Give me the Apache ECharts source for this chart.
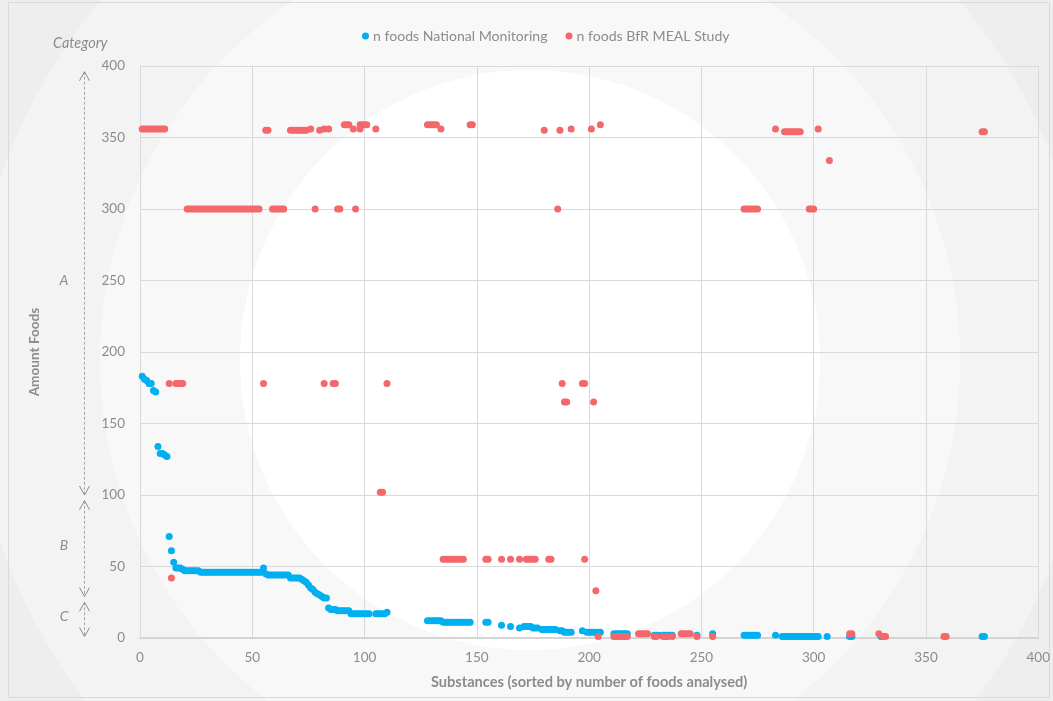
<!DOCTYPE html>
<html>
<head>
<meta charset="utf-8">
<script src="https://cdn.jsdelivr.net/npm/echarts@6/dist/echarts.min.js"></script>
<style>html,body{margin:0;padding:0;background:#f2f2f2}#c{width:1053px;height:701px}</style>
</head>
<body>
<div id="c"></div>
<script>
// ---- data (substance rank, number of foods) ----
const xTicks = [0, 50, 100, 150, 200, 250, 300, 350, 400];
const yTicks = [0, 50, 100, 150, 200, 250, 300, 350, 400];
const seriesNames = ['n foods National Monitoring', 'n foods BfR MEAL Study'];

const nationalMonitoring = [
  [1,183],[2,181],[3,180],[4,178],[5,178],[6,173],[7,172],
  [8,134],[9,129],[10,129],[11,128],[12,127],
  [13,71],[14,61],[15,53],[16,49],[17,49],[18,49],[19,48],
  [20,47],[21,47],[22,47],[23,47],[24,47],[25,47],[26,47],
  [27,46],[28,46],[29,46],[30,46],[31,46],[32,46],[33,46],[34,46],[35,46],[36,46],
  [37,46],[38,46],[39,46],[40,46],[41,46],[42,46],[43,46],[44,46],[45,46],[46,46],
  [47,46],[48,46],[49,46],[50,46],[51,46],[52,46],[53,46],[54,46],
  [55,49],
  [56,45],[57,44],[58,44],[59,44],[60,44],[61,44],[62,44],[63,44],[64,44],[65,44],[66,44],
  [67,42],[68,42],[69,42],[70,42],[71,42],
  [72,41],[73,40],[74,39],[75,37],[76,35],[77,34],[78,32],[79,31],[80,30],[81,29],[82,28],[83,28],
  [84,21],[85,20],[86,20],[87,20],[88,19],[89,19],[90,19],[91,19],[92,19],[93,19],
  [94,17],[95,17],[96,17],[97,17],[98,17],[99,17],[100,17],[101,17],[102,17],
  [105,17],[106,17],[107,17],[108,17],[109,17],[110,18],
  [128,12],[129,12],[130,12],[131,12],[132,12],[133,12],[134,12],
  [135,11],[136,11],[137,11],[138,11],[139,11],[140,11],[141,11],[142,11],[143,11],
  [144,11],[145,11],[146,11],[147,11],
  [154,11],[155,11],[161,9],[165,8],[169,7],
  [171,8],[172,8],[173,8],[174,8],[175,7],[176,7],[177,7],
  [179,6],[180,6],[181,6],[182,6],[183,6],[184,6],[185,6],
  [187,5],[188,5],[189,4],[190,4],[191,4],[192,4],
  [197,5],[199,4],[200,4],[201,4],[202,4],[203,4],[204,4],[205,4],
  [211,3],[212,3],[213,3],[214,3],[215,3],[216,3],[217,3],
  [229,2],[230,2],[231,2],[233,2],[234,2],[235,2],[236,2],[237,2],
  [248,2],[255,3],
  [269,2],[270,2],[271,2],[272,2],[273,2],[274,2],[275,2],
  [283,2],
  [286,1],[287,1],[288,1],[289,1],[290,1],[291,1],[292,1],[293,1],[294,1],[295,1],
  [296,1],[297,1],[298,1],[299,1],[300,1],[301,1],[302,1],
  [306,1],[316,1],[317,1],[330,1],[375,1],[376,1]
];

const mealStudy = [
  [1,356],[2,356],[3,356],[4,356],[5,356],[6,356],[7,356],[8,356],[9,356],[10,356],[11,356],
  [13,178],[14,42],[16,178],[17,178],[18,178],[19,178],
  [21,300],[22,300],[23,300],[24,300],[25,300],[26,300],[27,300],[28,300],[29,300],[30,300],
  [31,300],[32,300],[33,300],[34,300],[35,300],[36,300],[37,300],[38,300],[39,300],[40,300],
  [41,300],[42,300],[43,300],[44,300],[45,300],[46,300],[47,300],[48,300],[49,300],[50,300],
  [51,300],[52,300],[53,300],
  [55,178],[56,355],[57,355],
  [59,300],[60,300],[61,300],[62,300],[63,300],[64,300],
  [67,355],[68,355],[69,355],[70,355],[71,355],[72,355],[73,355],[74,355],
  [76,356],[78,300],[80,355],[82,178],[82,356],[84,356],
  [86,178],[87,178],[88,300],[89,300],
  [91,359],[92,359],[93,359],[95,356],[96,300],
  [98,356],[98,359],[99,359],[100,359],[101,359],
  [105,356],[107,102],[108,102],[110,178],
  [128,359],[129,359],[130,359],[131,359],[132,359],[134,356],
  [135,55],[136,55],[137,55],[138,55],[139,55],[140,55],[141,55],[142,55],[143,55],[144,55],
  [147,359],[148,359],
  [154,55],[155,55],[161,55],[165,55],[169,55],
  [172,55],[173,55],[174,55],[175,55],[176,55],
  [180,355],[182,55],[183,55],
  [186,300],[187,355],[188,178],[189,165],[190,165],[192,356],
  [197,178],[198,178],[198,55],[201,356],[202,165],[203,33],[204,1],[205,359],
  [211,1],[212,1],[213,1],[214,1],[215,1],[216,1],[217,1],
  [222,3],[223,3],[224,3],[225,3],[226,3],
  [229,1],[230,1],[233,1],[234,1],[235,1],[237,1],
  [241,3],[242,3],[243,3],[244,3],[245,3],
  [248,1],[255,1],
  [269,300],[270,300],[271,300],[272,300],[273,300],[274,300],[275,300],
  [283,356],
  [287,354],[288,354],[289,354],[290,354],[291,354],[292,354],[293,354],[294,354],
  [298,300],[299,300],[300,300],[302,356],[307,334],
  [316,3],[317,3],[329,3],[331,1],[332,1],
  [358,1],[359,1],[375,354],[376,354]
];

// category bands on the left (value ranges shown by dashed arrows)
const categoryLabels = ['A', 'B', 'C'];
const categoryArrows = [[396, 100], [96, 29], [25, 1]];
const categoryLabelAt = [250, 65, 15];

const FONT = 'Lato, "Open Sans", sans-serif';
const GREY = '#8c8c8c';

const chart = echarts.init(document.getElementById('c'), null, {renderer: 'canvas'});

const option = {
  backgroundColor: {
    type: 'radial', x: 530, y: 360, r: 620, global: true,
    colorStops: [
      {offset: 0, color: '#ffffff'},
      {offset: 290/620, color: '#ffffff'},
      {offset: 290/620, color: '#f8f8f8'},
      {offset: 430/620, color: '#f8f8f8'},
      {offset: 430/620, color: '#f3f3f3'},
      {offset: 560/620, color: '#f3f3f3'},
      {offset: 560/620, color: '#eeeeee'},
      {offset: 1, color: '#eeeeee'}
    ]
  },
  textStyle: {fontFamily: FONT},
  animation: false,
  legend: {
    top: 24, left: 357,
    itemGap: 18, itemWidth: 7, itemHeight: 7,
    icon: 'circle',
    data: seriesNames,
    textStyle: {color: GREY, fontSize: 14.1, fontFamily: FONT, padding: [0, 0, 0, -1]}
  },
  grid: {left: 140, right: 14, top: 66, bottom: 63, containLabel: false},
  xAxis: {
    type: 'value', min: xTicks[0], max: xTicks[xTicks.length - 1], interval: xTicks[1] - xTicks[0],
    name: 'Substances (sorted by number of foods analysed)',
    nameLocation: 'middle', nameGap: 37,
    nameTextStyle: {color: GREY, fontSize: 14.6, fontWeight: 'bold', fontFamily: FONT},
    axisLine: {show: true, lineStyle: {color: '#d4d4d4', width: 2}},
    axisTick: {show: false},
    axisLabel: {color: GREY, fontSize: 13.5, margin: 13, fontFamily: FONT},
    splitLine: {show: true, lineStyle: {color: '#d9d9d9', width: 1}}
  },
  yAxis: {
    type: 'value', min: yTicks[0], max: yTicks[yTicks.length - 1], interval: yTicks[1] - yTicks[0],
    name: 'Amount Foods',
    nameLocation: 'middle', nameGap: 98, nameRotate: 90,
    nameTextStyle: {color: GREY, fontSize: 13.6, fontWeight: 'bold', fontFamily: FONT},
    axisLine: {show: true, lineStyle: {color: '#d9d9d9', width: 1}},
    axisTick: {show: false},
    axisLabel: {color: GREY, fontSize: 13.5, margin: 15, fontFamily: FONT},
    splitLine: {show: true, lineStyle: {color: '#d9d9d9', width: 1}}
  },
  series: [
    {
      name: seriesNames[0], type: 'scatter', data: nationalMonitoring,
      symbol: 'circle', symbolSize: 7,
      itemStyle: {color: '#00b0f0', opacity: 1}, z: 3
    },
    {
      name: seriesNames[1], type: 'scatter', data: mealStudy,
      symbol: 'circle', symbolSize: 7,
      itemStyle: {color: '#f4676b', opacity: 1}, z: 4
    }
  ]
};

chart.setOption(option);

function yPix(v) { return chart.convertToPixel({gridIndex: 0}, [0, v])[1]; }

const AX = 84.5;
const elements = [
  {type: 'rect', silent: true, z: -1,
   shape: {x: 8.5, y: 2.5, width: 1041, height: 695},
   style: {fill: 'none', stroke: '#d9d9d9', lineWidth: 1}},
  {type: 'text', left: 53, top: 36, silent: true,
   style: {text: 'Category', fill: GREY, font: 'italic 14.5px ' + FONT}}
];
categoryArrows.forEach(function (rng, i) {
  const yTop = yPix(rng[0]), yBot = yPix(rng[1]);
  elements.push({type: 'line', silent: true,
    shape: {x1: AX, y1: yTop, x2: AX, y2: yBot},
    style: {stroke: '#a6a6a6', lineWidth: 1, lineDash: [3, 2]}});
  elements.push({type: 'polyline', silent: true,
    shape: {points: [[AX - 5, yTop + 9], [AX, yTop], [AX + 5, yTop + 9]]},
    style: {stroke: '#8c8c8c', lineWidth: 1, fill: 'none'}});
  elements.push({type: 'polyline', silent: true,
    shape: {points: [[AX - 5, yBot - 9], [AX, yBot], [AX + 5, yBot - 9]]},
    style: {stroke: '#8c8c8c', lineWidth: 1, fill: 'none'}});
  elements.push({type: 'text', silent: true, x: 64, y: yPix(categoryLabelAt[i]),
    style: {text: categoryLabels[i], fill: GREY, font: 'italic 14px ' + FONT,
            align: 'center', verticalAlign: 'middle'}});
});
chart.setOption({graphic: {elements: elements}});
</script>
</body>
</html>
